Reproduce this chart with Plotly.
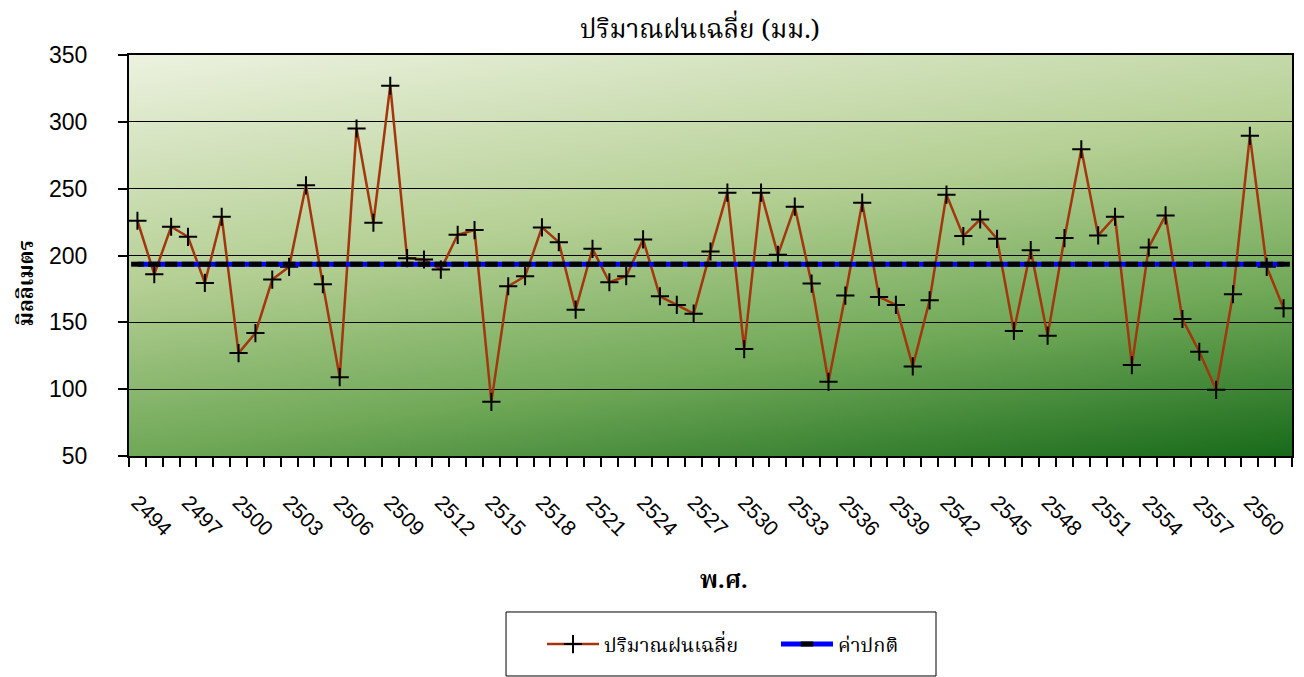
import base64
import plotly.graph_objects as go

# ---------------- data ----------------
years = list(range(2494, 2563))
rain = [226, 186, 221.5, 214, 179.5, 229, 127, 142, 182, 191.5,
        252.5, 178.5, 109, 295, 224.5, 327, 198, 197, 189.5, 215.5,
        219, 90.5, 177, 184.5, 221, 210, 159.5, 205, 180, 184.5,
        212, 169.5, 163, 156.5, 203, 247, 130, 247, 200.5, 236.5,
        179, 105.5, 170, 239.5, 169, 163, 117, 166.5, 245.5, 214.5,
        227, 212.5, 143.5, 204, 140, 213, 279.5, 215, 229, 118,
        206, 230, 152.5, 128, 99.5, 171, 289.5, 191.5, 160.5]
normal_value = 193.5
normal = [normal_value] * len(years)
tick_years = [2494, 2497, 2500, 2503, 2506, 2509, 2512, 2515, 2518, 2521, 2524,
              2527, 2530, 2533, 2536, 2539, 2542, 2545, 2548, 2551, 2554, 2557, 2560]

title_text = "ปริมาณฝนเฉลี่ย (มม.)"
name_rain = "ปริมาณฝนเฉลี่ย"
name_normal = "ค่าปกติ"
x_title = "พ.ศ."
y_title = "มิลลิเมตร"

THAI = "Noto Serif Thai, Noto Sans Thai, Tlwg Typo, Garuda, serif"
NUM = "Liberation Sans, Arial, sans-serif"

# gradient background for plot area
svg = (
    '<svg xmlns="http://www.w3.org/2000/svg" width="1163" height="401" '
    'viewBox="0 0 1163 401" preserveAspectRatio="none">'
    '<defs><linearGradient id="g" gradientUnits="userSpaceOnUse" x1="0" y1="0" x2="94" y2="655">'
    '<stop offset="0" stop-color="#ecf2df"/>'
    '<stop offset="0.35" stop-color="#b4cf93"/>'
    '<stop offset="0.6" stop-color="#6fa857"/>'
    '<stop offset="0.85" stop-color="#176a1a"/>'
    '<stop offset="1" stop-color="#0b5a0e"/>'
    '</linearGradient></defs>'
    '<rect x="0" y="0" width="1163" height="401" fill="url(#g)"/></svg>'
)
img_src = "data:image/svg+xml;base64," + base64.b64encode(svg.encode()).decode()

fig = go.Figure()

fig.add_trace(go.Scatter(
    x=years, y=rain, mode="lines+markers", name=name_rain,
    line=dict(color="#a3360c", width=2.5),
    marker=dict(symbol="cross-thin-open", size=13, color="black",
                line=dict(color="black", width=2)),
))
fig.add_trace(go.Scatter(
    x=years, y=normal, mode="lines+markers", name=name_normal,
    line=dict(color="#0000ff", width=5),
    marker=dict(symbol="line-ew-open", size=9, color="black",
                line=dict(color="black", width=5)),
))

# page has an 8px body margin: figure is sized/offset to compensate
fig.update_layout(
    width=1296, height=669,
    margin=dict(l=121, r=12, t=47, b=221, autoexpand=False),
    paper_bgcolor="white",
    plot_bgcolor="rgba(0,0,0,0)",
    showlegend=True,
    legend=dict(orientation="h", x=0.3551, xanchor="left", y=-0.469, yanchor="middle",
                bgcolor="rgba(0,0,0,0)", font=dict(family=THAI, size=20, color="black"),
                itemwidth=52, tracegroupgap=0, entrywidth=167),
    images=[dict(source=img_src, xref="paper", yref="paper", x=0, y=1, sizex=1, sizey=1,
                 xanchor="left", yanchor="top", sizing="stretch", layer="below")],
    xaxis=dict(
        range=[2493.5, 2562.5], tickmode="array", tickvals=tick_years,
        ticktext=[str(v) for v in tick_years], tickangle=45,
        ticks="", showgrid=False, zeroline=False,
        showline=True, linecolor="black", linewidth=2, mirror=True,
        tickfont=dict(family=NUM, size=21, color="black"),
        ticklabelstandoff=24,
        minor=dict(ticks="outside", ticklen=9, tickwidth=2, tickcolor="black",
                   tickmode="linear", tick0=2493.5, dtick=1, showgrid=False),
    ),
    yaxis=dict(
        range=[50, 350], tickmode="linear", tick0=50, dtick=50,
        ticks="outside", ticklen=9, tickwidth=2, tickcolor="black",
        showgrid=True, gridcolor="black", gridwidth=1, zeroline=False,
        showline=True, linecolor="black", linewidth=2, mirror=True,
        tickfont=dict(family=NUM, size=23, color="black"),
        ticklabelstandoff=26,
    ),
    annotations=[
        dict(text=title_text, xref="paper", yref="paper", x=0.491, y=1.06,
             xanchor="center", yanchor="middle", showarrow=False,
             font=dict(family=THAI, size=26, color="black")),
        dict(text="<b>" + x_title + "</b>", xref="paper", yref="paper", x=0.512, y=-0.314,
             xanchor="center", yanchor="middle", showarrow=False,
             font=dict(family=THAI, size=24, color="black")),
        dict(text="<b>" + y_title + "</b>", xref="paper", yref="paper", x=-0.0877, y=0.431,
             xanchor="center", yanchor="middle", showarrow=False, textangle=-90,
             font=dict(family=THAI, size=21, color="black")),
    ],
    shapes=[
        dict(type="rect", xref="paper", yref="paper", x0=0.3242, x1=0.6939,
             y0=-0.5486, y1=-0.389, line=dict(color="black", width=1),
             fillcolor="rgba(0,0,0,0)"),
    ],
)

fig.write_html("out.html")
